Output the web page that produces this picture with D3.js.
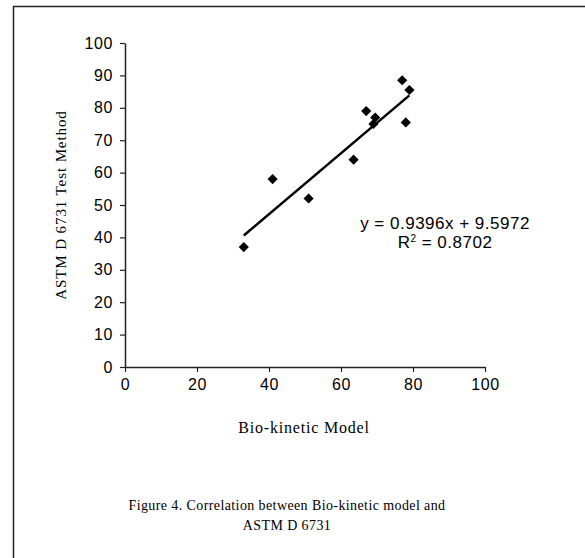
<!DOCTYPE html>
<html>
<head>
<meta charset="utf-8">
<script src="https://cdn.jsdelivr.net/npm/d3@7"></script>
<style>
body { margin: 0; background: #fff; }
</style>
</head>
<body>
<script>
// values
var bioKinetic = [33, 41, 51, 63.5, 67, 69, 69.5, 77, 78, 79];
var astmD6731 = [37, 58, 52, 64, 79, 75, 77, 88.5, 75.5, 85.5];
var xTicks = [0, 20, 40, 60, 80, 100];
var yTicks = [0, 10, 20, 30, 40, 50, 60, 70, 80, 90, 100];
var slope = 0.9396, intercept = 9.5972, rSquared = "0.8702";

w = 585;
h = 558;
var svg = d3.select("body")
	.append("svg")
	.attr("width", w)
	.attr("height", h);

// frame of the scan (only left and top edges show)
svg.append("path")
	.attr("d", "M13.5,558 L13.5,6.5 L585,6.5")
	.attr("fill", "none")
	.attr("stroke", "#222")
	.attr("stroke-width", 1.5);

var xScale = d3.scaleLinear()
	.domain([0, 100])
	.range([125, 485]);
var yScale = d3.scaleLinear()
	.domain([0, 100])
	.range([367, 43]);

var xAxis = svg.append("g")
	.attr("transform", "translate(0," + yScale(0) + ")")
	.call(d3.axisBottom(xScale).tickValues(xTicks).tickSize(5).tickPadding(7).tickSizeOuter(0));
var yAxis = svg.append("g")
	.attr("transform", "translate(" + xScale(0) + ",0)")
	.call(d3.axisLeft(yScale).tickValues(yTicks).tickSize(5).tickPadding(7).tickSizeOuter(0));

[xAxis, yAxis].forEach(function(g) {
	g.select(".domain").attr("stroke", "#222").attr("stroke-width", 1.5);
	g.selectAll(".tick line").attr("stroke", "#222").attr("stroke-width", 1.2);
	g.selectAll(".tick text")
		.attr("fill", "#000")
		.attr("font-family", "'Liberation Sans', Arial, sans-serif")
		.attr("font-size", "16px")
		.attr("letter-spacing", "0.6px");
});

// trend line over the data range
var xr = d3.extent(bioKinetic);
svg.append("line")
	.attr("x1", xScale(xr[0]))
	.attr("y1", yScale(slope * xr[0] + intercept))
	.attr("x2", xScale(xr[1]))
	.attr("y2", yScale(slope * xr[1] + intercept))
	.attr("stroke", "#000")
	.attr("stroke-width", 2.5);

var diamond = d3.symbol().type(d3.symbolSquare).size(52);
svg.selectAll("path.pt")
	.data(bioKinetic)
	.enter()
	.append("path")
	.attr("class", "pt")
	.attr("d", diamond)
	.attr("transform", function(d, i) {
		return "translate(" + xScale(d) + "," + yScale(astmD6731[i]) + ") rotate(45)";
	})
	.attr("fill", "#000");

// equation labels
var sans = "'Liberation Sans', Arial, sans-serif";
svg.append("text")
	.attr("x", 445)
	.attr("y", 229)
	.attr("text-anchor", "middle")
	.attr("font-family", sans)
	.attr("font-size", "17px")
	.attr("letter-spacing", "0.5px")
	.text("y = " + slope + "x + " + intercept);
var r2 = svg.append("text")
	.attr("x", 445)
	.attr("y", 248)
	.attr("text-anchor", "middle")
	.attr("font-family", sans)
	.attr("font-size", "17px")
	.attr("letter-spacing", "0.5px");
r2.append("tspan").text("R");
r2.append("tspan").attr("font-size", "10px").attr("dy", -6).text("2");
r2.append("tspan").attr("dy", 6).text(" = " + rSquared);

var serif = "'Liberation Serif', 'Times New Roman', serif";
svg.append("text")
	.attr("x", 304)
	.attr("y", 433)
	.attr("text-anchor", "middle")
	.attr("font-family", serif)
	.attr("font-size", "16px")
	.attr("letter-spacing", "0.8px")
	.text("Bio-kinetic Model");

svg.append("text")
	.attr("transform", "translate(66,205) rotate(-90)")
	.attr("text-anchor", "middle")
	.attr("font-family", serif)
	.attr("font-size", "15px")
	.attr("letter-spacing", "0.9px")
	.text("ASTM D 6731 Test Method");

svg.append("text")
	.attr("x", 287)
	.attr("y", 510)
	.attr("text-anchor", "middle")
	.attr("font-family", serif)
	.attr("font-size", "14px")
	.attr("letter-spacing", "0.4px")
	.text("Figure 4. Correlation between Bio-kinetic model and");
svg.append("text")
	.attr("x", 287)
	.attr("y", 530)
	.attr("text-anchor", "middle")
	.attr("font-family", serif)
	.attr("font-size", "14px")
	.attr("letter-spacing", "0.4px")
	.text("ASTM D 6731");
</script>
</body>
</html>
